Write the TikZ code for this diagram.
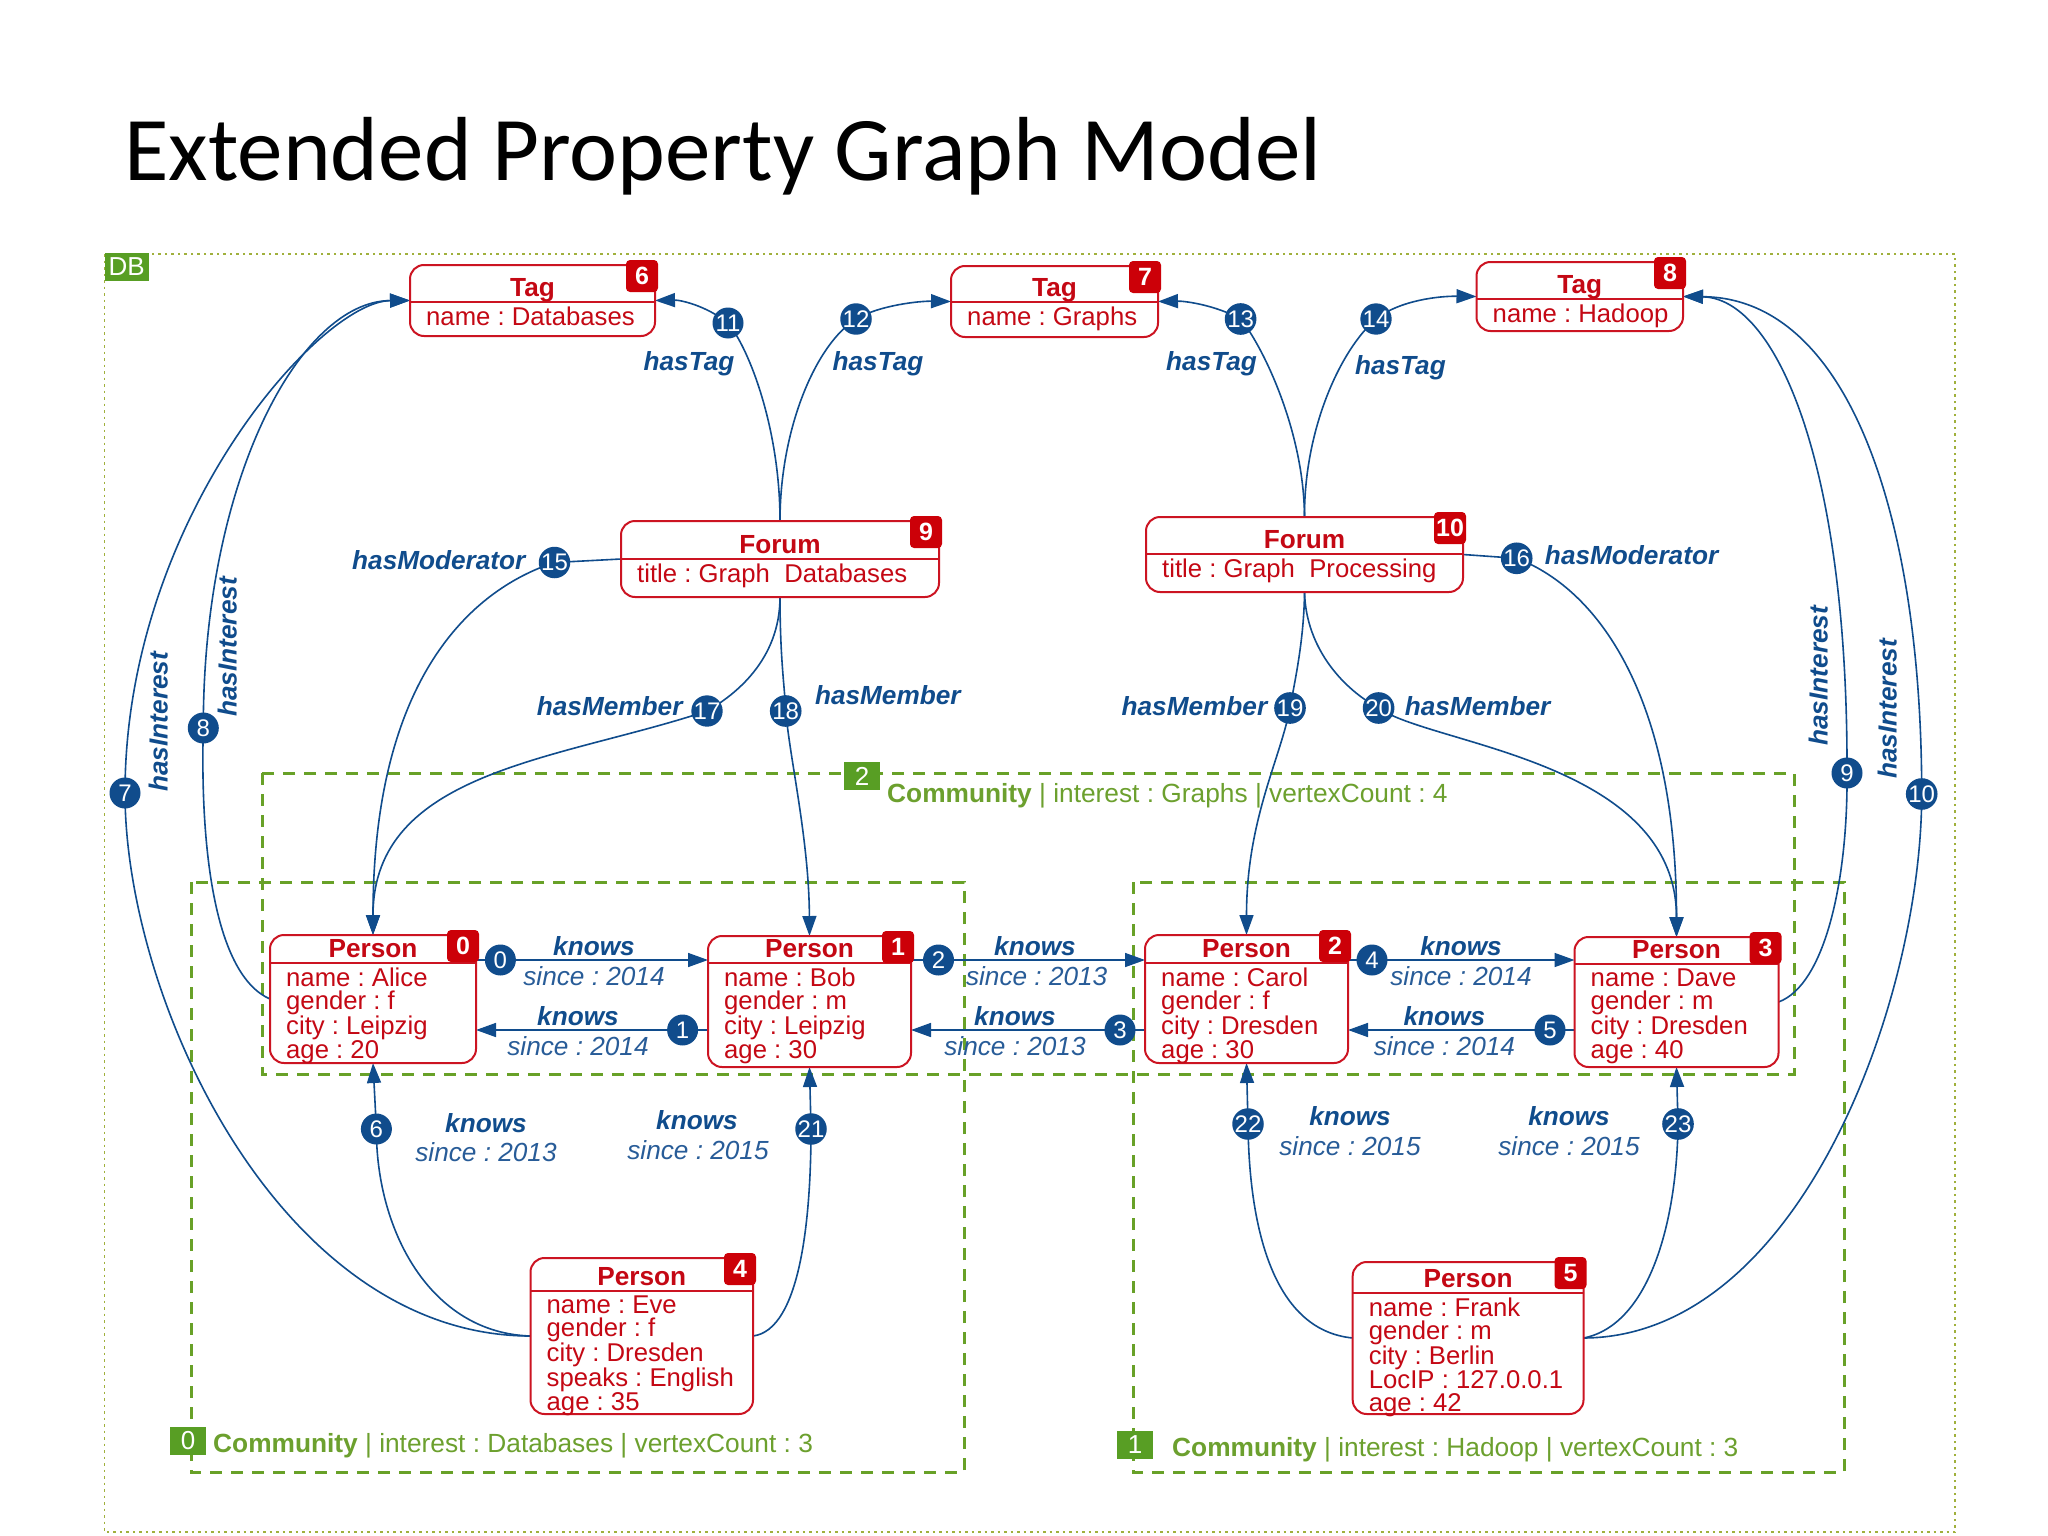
\documentclass[tikz,border=0pt]{standalone}
\usepackage{fontspec}
\setmainfont{Liberation Sans}
\newfontfamily\titlefont{Carlito}
\usetikzlibrary{arrows.meta}
\pgfdeclarelayer{bgzero}
\pgfdeclarelayer{bgone}
\pgfsetlayers{bgzero,bgone,main}
\definecolor{eblue}{RGB}{16,76,140}
\definecolor{pblue}{RGB}{40,92,152}
\definecolor{nred}{RGB}{204,20,34}
\definecolor{tred}{RGB}{196,8,20}
\definecolor{bred}{RGB}{204,0,8}
\definecolor{cgreen}{RGB}{104,161,40}
\definecolor{gbad}{RGB}{88,158,36}
\definecolor{gtext}{RGB}{108,160,46}
\definecolor{dbline}{RGB}{160,176,60}
\tikzset{
 entbox/.style={draw=nred, line width=2pt, rounded corners=14pt, fill=white, inner sep=0pt, outer sep=0pt},
 entline/.style={draw=nred, line width=2pt},
 enttitle/.style={text=tred, font=\fontsize{26.2pt}{26.2pt}\selectfont\bfseries, inner sep=0pt},
 entbody/.style={text=tred, font=\fontsize{25.7pt}{23.2pt}\selectfont, align=left, inner sep=0pt},
 rbadge/.style={fill=bred, rounded corners=4pt, text=white, font=\fontsize{25pt}{25pt}\selectfont\bfseries, minimum width=32pt, minimum height=32pt, inner sep=0pt},
 ecirc/.style={circle, fill=eblue, text=white, font=\fontsize{24pt}{24pt}\selectfont, minimum size=31pt, inner sep=0pt},
 rel/.style={draw=eblue, line width=1.6pt},
 arr/.style={-{Triangle[length=20pt,width=14pt]}},
 relname/.style={text=eblue, font=\fontsize{26.2pt}{26.2pt}\selectfont\bfseries\itshape, inner sep=0pt, anchor=base},
 relprop/.style={text=pblue, font=\fontsize{26.2pt}{26.2pt}\selectfont\itshape, inner sep=0pt, anchor=base},
 commbox/.style={draw=cgreen, line width=3pt, dash pattern=on 12pt off 9pt},
 gbadge/.style={fill=gbad, text=white, font=\fontsize{26pt}{26pt}\selectfont, minimum width=36pt, minimum height=28pt, inner sep=0pt},
 commtext/.style={text=gtext, font=\fontsize{26.3pt}{26.3pt}\selectfont, inner sep=0pt, anchor=base west},
}
\newcommand\entity[9]{%
  \pgfmathsetmacro\entw{#4-#2}%
  \pgfmathsetmacro\enth{#5-#3}%
  \node[entbox, minimum width=\entw pt, minimum height=\enth pt] (#1) at ({(#2+#4)/2},{(#3+#5)/2}) {};
  \draw[entline] (#2,#6) -- (#4,#6);
  \node[enttitle, anchor=base] (#1-t) at ({(#2+#4)/2},{#6-6}) {#7};
  \node[entbody, anchor=north west] (#1-b) at ({#2+16},{#6+4.5}) {#8};
  \node[rbadge] (#1-n) at ({#4-13},{#3+11}) {#9};
}
\begin{document}
\frenchspacing
\begin{tikzpicture}[x=1pt,y=-1pt]
\useasboundingbox (0,0) rectangle (2048,1536);
% title
\node[anchor=base west, inner sep=0pt, font=\titlefont\fontsize{91pt}{91pt}\selectfont] (title) at (124,180) {Extended Property Graph Model};

% frames
\begin{pgfonlayer}{bgzero}
\fill[white] (0,0) rectangle (2048,1536);
\draw[draw=dbline, line width=1.6pt, dash pattern=on 2.5pt off 4pt] (104.5,254) rectangle (1955,1532);
\draw[commbox] (262,773) rectangle (1794,1074);
\draw[commbox] (191,882) rectangle (964,1472);
\draw[commbox] (1133,882) rectangle (1844,1472);
\end{pgfonlayer}
\node[gbadge, minimum width=44pt] (db) at (126.75,267) {DB};
\node[gbadge] (c2n) at (862,776) {2};
\node[commtext] (c2t) at (887,802) {\textbf{Community} | interest : Graphs | vertexCount : 4};
\node[gbadge] (c0n) at (188,1441) {0};
\node[commtext] (c0t) at (213,1452) {\textbf{Community} | interest : Databases | vertexCount : 3};
\node[gbadge] (c1n) at (1135,1445) {1};
\node[commtext] (c1t) at (1172,1456) {\textbf{Community} | interest : Hadoop | vertexCount : 3};

% vertices
\entity{t6}{410}{265}{655}{336}{302}{Tag}{name : Databases}{6}
\entity{t7}{951}{266}{1158}{337}{302}{Tag}{name : Graphs}{7}
\entity{t8}{1476.5}{262}{1683}{331}{299}{Tag}{name : Hadoop}{8}
\entity{f9}{621}{521}{939}{597}{559}{Forum}{title : Graph\ \ Databases}{9}
\entity{f10}{1146}{517}{1463}{592}{554}{Forum}{title : Graph\ \ Processing}{10}
\entity{p0}{270}{935}{476}{1063}{963}{Person}{name : Alice\\gender : f\\city : Leipzig\\age : 20}{0}
\entity{p1}{708}{936}{911}{1067}{963}{Person}{name : Bob\\gender : m\\city : Leipzig\\age : 30}{1}
\entity{p2}{1145}{935}{1348}{1063}{963}{Person}{name : Carol\\gender : f\\city : Dresden\\age : 30}{2}
\entity{p3}{1574.5}{937}{1778.5}{1067}{964}{Person}{name : Dave\\gender : m\\city : Dresden\\age : 40}{3}
\entity{p4}{530.5}{1258}{753}{1414}{1291}{Person}{name : Eve\\gender : f\\city : Dresden\\speaks : English\\age : 35}{4}
\entity{p5}{1352.7}{1262}{1583.5}{1414}{1293}{Person}{name : Frank\\gender : m\\city : Berlin\\LocIP : 127.0.0.1\\age : 42}{5}

% edge id circles
\node[ecirc] (e0) at (500.4,960) {0};
\node[ecirc] (e1) at (682.6,1030) {1};
\node[ecirc] (e2) at (938.5,960) {2};
\node[ecirc] (e3) at (1120,1030) {3};
\node[ecirc] (e4) at (1372,960) {4};
\node[ecirc] (e5) at (1550,1030) {5};
\node[ecirc] (e6) at (376.4,1129) {6};
\node[ecirc] (e7) at (125,793) {7};
\node[ecirc] (e8) at (203.3,728) {8};
\node[ecirc] (e9) at (1847,773) {9};
\node[ecirc] (e10) at (1921.7,794) {10};
\node[ecirc] (e11) at (728,323) {11};
\node[ecirc] (e12) at (856,319) {12};
\node[ecirc] (e13) at (1240.6,319) {13};
\node[ecirc] (e14) at (1376,319) {14};
\node[ecirc] (e15) at (554.5,562.5) {15};
\node[ecirc] (e16) at (1516.7,558.3) {16};
\node[ecirc] (e17) at (707,711) {17};
\node[ecirc] (e18) at (785.7,711) {18};
\node[ecirc] (e19) at (1290,708) {19};
\node[ecirc] (e20) at (1378.6,708) {20};
\node[ecirc] (e21) at (811,1129) {21};
\node[ecirc] (e22) at (1248,1124) {22};
\node[ecirc] (e23) at (1678,1124) {23};

% edges
\begin{pgfonlayer}{bgone}
% hasInterest
\draw[rel] (p4.west) .. controls (280,1336) and (125,1000) .. (e7.center);
\draw[rel,arr] (e7.center) .. controls (125,520) and (320,301) .. (t6.west);
\draw[rel] (p0.west) .. controls (215,975) and (200,850) .. (e8.center);
\draw[rel,arr] (e8.center) .. controls (203,480) and (300,301) .. (t6.west);
\draw[rel] (p3.east) .. controls (1825,985) and (1848,880) .. (e9.center);
\draw[rel,arr] (e9.center) .. controls (1848,460) and (1775,298) .. (t8.east);
\draw[rel] (p5.east) .. controls (1800,1337) and (1921.7,1000) .. (e10.center);
\draw[rel,arr] (e10.center) .. controls (1921.7,520) and (1850,298) .. (t8.east);
% hasTag
\draw[rel] (f9.north) .. controls (780,430) and (750,350) .. (e11.center);
\draw[rel,arr] (e11.center) .. controls (705,305) and (680,300) .. (t6.east);
\draw[rel] (f9.north) .. controls (780,430) and (815,345) .. (e12.center);
\draw[rel,arr] (e12.center) .. controls (880,305) and (920,301) .. (t7.west);
\draw[rel] (f10.north) .. controls (1304,430) and (1262,345) .. (e13.center);
\draw[rel,arr] (e13.center) .. controls (1215,305) and (1185,301) .. (t7.east);
\draw[rel] (f10.north) .. controls (1304,430) and (1340,350) .. (e14.center);
\draw[rel,arr] (e14.center) .. controls (1400,300) and (1440,296) .. (t8.west);
% hasModerator / hasMember
\draw[rel] (f9.west) -- (e15.center);
\draw[rel,arr] (e15.center) .. controls (470,590) and (373,680) .. (p0.north);
\draw[rel] (f9.south) .. controls (780,660) and (735,695) .. (e17.center);
\draw[rel,arr] (e17.center) .. controls (560,760) and (373,770) .. (p0.north);
\draw[rel] (f9.south) .. controls (780,660) and (785,690) .. (e18.center);
\draw[rel,arr] (e18.center) .. controls (790,760) and (809,840) .. (p1.north);
\draw[rel] (f10.east) -- (e16.center);
\draw[rel,arr] (e16.center) .. controls (1600,590) and (1676.5,700) .. (p3.north);
\draw[rel] (f10.south) .. controls (1304,640) and (1295,680) .. (e19.center);
\draw[rel,arr] (e19.center) .. controls (1280,760) and (1246.5,820) .. (p2.north);
\draw[rel] (f10.south) .. controls (1306,650) and (1345,690) .. (e20.center);
\draw[rel,arr] (e20.center) .. controls (1430,745) and (1676.5,760) .. (p3.north);
% knows
\draw[rel] (p0.east |- e0) -- (e0.center); \draw[rel,arr] (e0.center) -- (p1.west |- e0);
\draw[rel] (p1.west |- e1) -- (e1.center); \draw[rel,arr] (e1.center) -- (p0.east |- e1);
\draw[rel] (p1.east |- e2) -- (e2.center); \draw[rel,arr] (e2.center) -- (p2.west |- e2);
\draw[rel] (p2.west |- e3) -- (e3.center); \draw[rel,arr] (e3.center) -- (p1.east |- e3);
\draw[rel] (p2.east |- e4) -- (e4.center); \draw[rel,arr] (e4.center) -- (p3.west |- e4);
\draw[rel] (p3.west |- e5) -- (e5.center); \draw[rel,arr] (e5.center) -- (p2.east |- e5);
\draw[rel] (p4.west) .. controls (430,1333) and (376,1230) .. (e6.center);
\draw[rel,arr] (e6.center) -- (p0.south);
\draw[rel] (p4.east) .. controls (800,1330) and (811,1220) .. (e21.center);
\draw[rel,arr] (e21.center) -- (p1.south);
\draw[rel] (p5.west) .. controls (1270,1330) and (1249,1220) .. (e22.center);
\draw[rel,arr] (e22.center) -- (p2.south);
\draw[rel] (p5.east) .. controls (1650,1325) and (1677,1220) .. (e23.center);
\draw[rel,arr] (e23.center) -- (p3.south);
\end{pgfonlayer}

% edge labels
\node[relname] (l11) at (689,370.7) {hasTag};
\node[relname] (l12) at (878,370.7) {hasTag};
\node[relname] (l13) at (1211.6,370.7) {hasTag};
\node[relname] (l14) at (1400.4,374) {hasTag};
\node[relname] (l15) at (438.8,569.5) {hasModerator};
\node[relname] (l16) at (1631.6,564.5) {hasModerator};
\node[relname] (l17) at (609.7,715) {hasMember};
\node[relname] (l18) at (887.8,704) {hasMember};
\node[relname] (l19) at (1194.4,715) {hasMember};
\node[relname] (l20) at (1477.6,715) {hasMember};
\node[relname, rotate=90, anchor=center] (l7) at (158.3,721.7) {hasInterest};
\node[relname, rotate=90, anchor=center] (l8) at (227.3,647) {hasInterest};
\node[relname, rotate=90, anchor=center] (l9) at (1818.3,675.7) {hasInterest};
\node[relname, rotate=90, anchor=center] (l10) at (1887.3,709) {hasInterest};
\node[relname] (k0) at (594,955.7) {knows};
\node[relprop] (s0) at (594,985.7) {since : 2014};
\node[relname] (k1) at (578,1025.7) {knows};
\node[relprop] (s1) at (578,1055.7) {since : 2014};
\node[relname] (k2) at (1035,955.7) {knows};
\node[relprop] (s2) at (1036.7,985.7) {since : 2013};
\node[relname] (k3) at (1015,1025.7) {knows};
\node[relprop] (s3) at (1015,1055.7) {since : 2013};
\node[relname] (k4) at (1461,955.7) {knows};
\node[relprop] (s4) at (1461,985.7) {since : 2014};
\node[relname] (k5) at (1444.4,1025.7) {knows};
\node[relprop] (s5) at (1444.4,1055.7) {since : 2014};
\node[relname] (k6) at (486,1132) {knows};
\node[relprop] (s6) at (486,1161.7) {since : 2013};
\node[relname] (k21) at (697,1129) {knows};
\node[relprop] (s21) at (698,1159) {since : 2015};
\node[relname] (k22) at (1350,1125.7) {knows};
\node[relprop] (s22) at (1350,1155) {since : 2015};
\node[relname] (k23) at (1569,1125.7) {knows};
\node[relprop] (s23) at (1569,1155) {since : 2015};
\end{tikzpicture}
\end{document}
